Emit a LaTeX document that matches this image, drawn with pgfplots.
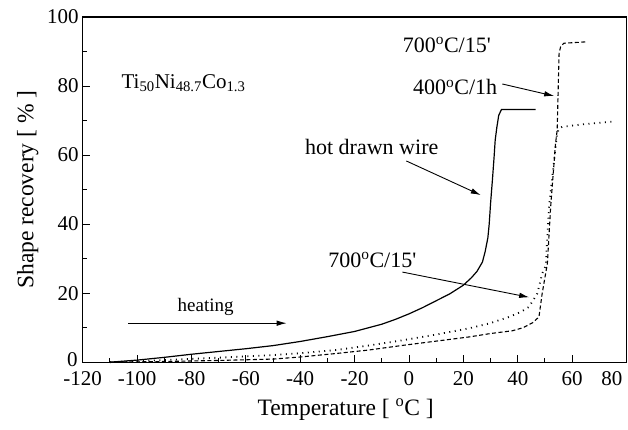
\documentclass[border=0pt]{standalone}
\usepackage{fontspec}
\setmainfont{Liberation Serif}
\usepackage{pgfplots}
\pgfplotsset{compat=1.18}
\usetikzlibrary{arrows.meta}

\newcommand{\ann}{\fontsize{22}{26}\selectfont}

\begin{document}
\begin{tikzpicture}
\begin{axis}[
    scale only axis,
    width=543.5pt, height=345pt,
    xmin=-120, xmax=80, ymin=0, ymax=100,
    xtick={-120,-100,...,60},
    extra x ticks={80},
    extra x tick style={xticklabel style={anchor=north east, xshift=-3pt}},
    ytick={20,40,...,100},
    extra y ticks={0},
    extra y tick style={yticklabel style={yshift=3pt, xshift=-1pt}},
    minor x tick num=1, minor y tick num=1,
    minor ytick={10,30,...,90},
    xtick pos=bottom, ytick pos=left,
    tick align=inside,
    major tick length=7pt, minor tick length=4pt,
    axis line style={line width=1.1pt},
    tick style={line width=1pt, black},
    /pgf/number format/assume math mode=true,
    ticklabel style={font=\fontsize{21}{24}\selectfont, inner sep=1pt},
    xticklabel style={yshift=-8pt},
    yticklabel style={xshift=-3pt},
    xlabel={Temperature [ \textsuperscript{o}C ]},
    ylabel={Shape recovery [ \% ]},
    label style={font=\fontsize{23.5}{27}\selectfont},
    xlabel style={yshift=-9pt, xshift=-9pt},
    ylabel style={yshift=4pt},
    clip=false,
]
% hot drawn wire
\addplot[black, line width=1.2pt] coordinates {
(-110,0) (-100,0.6) (-90,1.4) (-80,2.3) (-70,3.1) (-60,3.9) (-50,4.8)
(-40,6.0) (-30,7.4) (-20,8.9) (-10,11) (-5,12.4) (0,14) (5,15.8) (10,17.8)
(15,19.8) (20,22.3) (23,24.5) (25,26.3) (27,29) (28,32) (29,36) (29.5,40)
(30,46) (30.7,53) (31.3,59.5) (31.7,64.3) (32.3,68) (33,71.5) (34,73.2) (46.6,73.2)
};
% 700C/15' + 400C/1h
\addplot[black, line width=1.1pt, dash pattern=on 4pt off 2.5pt] coordinates {
(-110,0) (-90,0.2) (-70,0.5) (-50,0.9) (-40,1.5) (-27,2.5) (-15,3.5) (-2,4.9)
(10,6.1) (22,7.3) (30,8.3) (38,9.1) (42,10) (45.4,11.4) (47.8,13.1) (49,20)
(50.9,28.6) (52.1,45) (53.9,63.4) (54.5,67.2) (55.2,89.5) (55.8,91.5) (57,92.4) (65,92.8)
};
% 700C/15'
\addplot[black, line width=1.8pt, dash pattern=on 1pt off 4.5pt] coordinates {
(-110,0) (-90,0.6) (-70,1.3) (-51,2) (-40,2.6) (-27,3.5) (-15,4.8) (-2,6.4)
(10,8) (22,9.8) (29.5,11.2) (36.8,13.1) (41,14.5) (44.1,16) (47.2,19.9) (49,25.7)
(50.3,28) (51.5,45) (54,62.9) (54.5,66.3) (55.3,67.8) (56.4,68.2) (65,69) (74.7,69.7)
};

\node[anchor=west, font=\fontsize{21}{24}\selectfont] at (axis cs:-107,80.9)
  {Ti\textsubscript{50}Ni\textsubscript{48.7}Co\textsubscript{1.3}};
\node[font=\ann] at (axis cs:-13.7,62.3) {hot drawn wire};
\draw[-{Latex[length=10pt,width=5.5pt]}, line width=0.9pt] (axis cs:-1,58.3) -- (axis cs:26.4,48.4);
\node[font=\ann] at (axis cs:13.9,91.9) {700\textsuperscript{o}C/15\textquotesingle};
\node[font=\ann] at (axis cs:17,79.7) {400\textsuperscript{o}C/1h};
\draw[-{Latex[length=10pt,width=5.5pt]}, line width=0.9pt] (axis cs:34.3,80.6) -- (axis cs:53.4,77.1);
\node[font=\ann] at (axis cs:-13.5,29.6) {700\textsuperscript{o}C/15\textquotesingle};
\draw[-{Latex[length=10pt,width=5.5pt]}, line width=0.9pt] (axis cs:-2.4,26.1) -- (axis cs:44.2,18.8);
\node[font=\fontsize{19}{22}\selectfont] at (axis cs:-74.8,15.9) {heating};
\draw[-{Latex[length=10pt,width=5.5pt]}, line width=0.9pt] (axis cs:-103.3,11.3) -- (axis cs:-45,11.3);
\end{axis}
\pgfresetboundingbox
\path[use as bounding box] ([xshift=-82.7pt,yshift=-67pt]current axis.south west)
  rectangle ([xshift=1.5pt,yshift=17pt]current axis.north east);
\end{tikzpicture}
\end{document}
